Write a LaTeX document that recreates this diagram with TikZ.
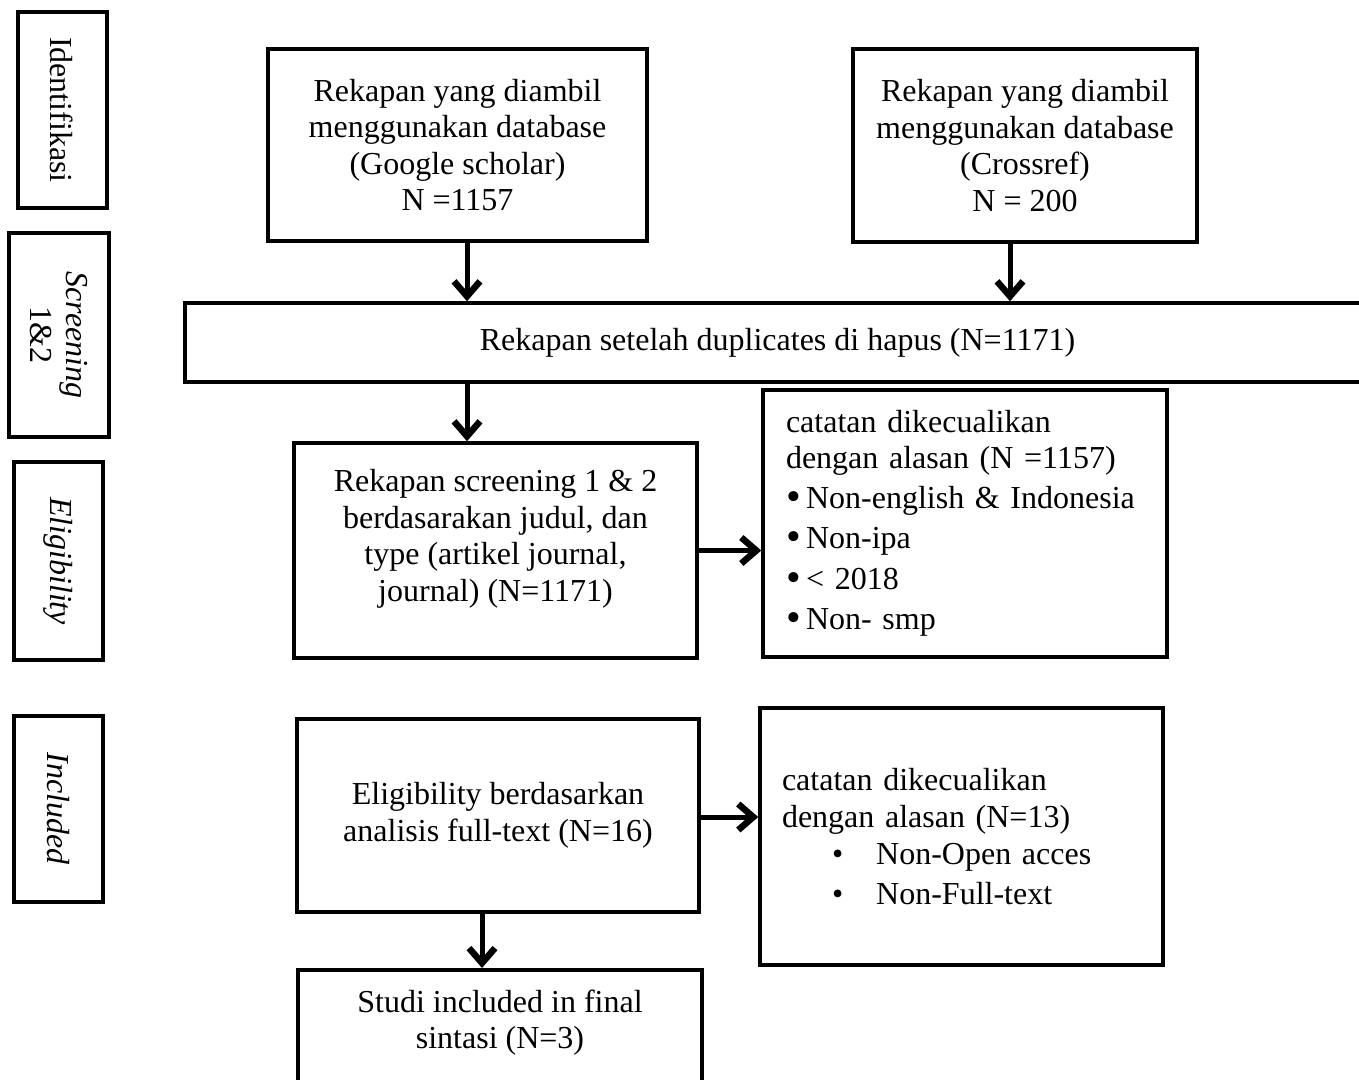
\documentclass[tikz,border=0pt]{standalone}
\usepackage{fontspec}
\setmainfont{Liberation Serif}
\usetikzlibrary{arrows.meta}

\newcommand{\dotitem}{\raisebox{-2pt}{\fontsize{42}{36.5}\selectfont\textbullet}}

\begin{document}
\begin{tikzpicture}[x=1pt, y=-1pt,
    every node/.style={font=\fontsize{32}{36.5}\selectfont},
    box/.style={draw, rectangle, line width=3.5pt, align=center, inner sep=0pt},
    stage/.style={box, rotate=-90, line width=4pt},
    arr/.style={line width=5pt, -{Straight Barb[length=15pt, width=26pt, line width=6.5pt]}}]
    \useasboundingbox (0,0) rectangle (1359,1079);

    % Stages
    \node (identifikasi) [stage, minimum width=196pt, minimum height=89pt] at (62,110) {Identifikasi};
    \node (screening) [stage, minimum width=204pt, minimum height=100pt] at (59,335) {\textit{Screening}\\1\&2};
    \node (eligibility) [stage, minimum width=198pt, minimum height=89pt] at (58.5,561) {\textit{Eligibility}};
    \node (included) [stage, minimum width=186pt, minimum height=89pt] at (58.5,809) {\textit{Included}};

    % Nodes
    \node (google) [box, minimum width=379pt, minimum height=192pt] at (457.5,145)
        {Rekapan yang diambil\\menggunakan database\\(Google scholar)\\N =1157};
    \node (crossref) [box, minimum width=344pt, minimum height=193pt] at (1025,145.5)
        {Rekapan yang diambil\\menggunakan database\\(Crossref)\\N = 200};
    \node (duplicates) [box, minimum width=1185pt, minimum height=79pt] at (777.5,342.5)
        {Rekapan setelah duplicates di hapus (N=1171)};
    \node (screen) [box, minimum width=403pt, minimum height=215pt] at (495.5,550.5)
        {Rekapan screening 1 \& 2\\berdasarakan judul, dan\\type (artikel journal,\\journal) (N=1171)\\[-6pt]};
    \node (exclude1) [box, align=left, inner xsep=23pt, text width=358pt, minimum height=267pt] at (965,523.5)
        {catatan dikecualikan\\
         dengan alasan (N =1157)\\[3pt]
         \dotitem\,Non-english \& Indonesia\\[4pt]
         \dotitem\,Non-ipa\\[4pt]
         \dotitem\,< 2018\\[4pt]
         \dotitem\,Non- smp};
    \node (eligible) [box, minimum width=402pt, minimum height=193pt] at (498,815.5)
        {Eligibility berdasarkan\\analisis full-text (N=16)};
    \node (exclude2) [box, align=left, inner xsep=22pt, text width=359pt, minimum height=257pt] at (961.5,836.5)
        {catatan dikecualikan\\
         dengan alasan (N=13)\\[1pt]
         \hspace*{50pt}\textbullet\hspace{33pt}Non-Open acces\\[3pt]
         \hspace*{50pt}\textbullet\hspace{33pt}Non-Full-text};
    \node (final) [box, anchor=north, minimum width=404pt, inner ysep=20pt, text depth=40pt] at (500,968)
        {Studi included in final\\sintasi (N=3)};

    % Arrows
    \draw[arr] ([xshift=9.5pt]google.south) -- ([xshift=9.5pt]google.south |- duplicates.north);
    \draw[arr] ([xshift=-15pt]crossref.south) -- ([xshift=-15pt]crossref.south |- duplicates.north);
    \draw[arr] ([xshift=-28.5pt]screen.north |- duplicates.south) -- ([xshift=-28.5pt]screen.north);
    \draw[arr] (screen.east) -- (screen.east -| exclude1.west);
    \draw[arr] ([yshift=-1.5pt]eligible.east) -- ([yshift=-1.5pt]eligible.east -| exclude2.west);
    \draw[arr] ([xshift=-16pt]eligible.south) -- ([xshift=-16pt]eligible.south |- final.north);
\end{tikzpicture}
\end{document}
